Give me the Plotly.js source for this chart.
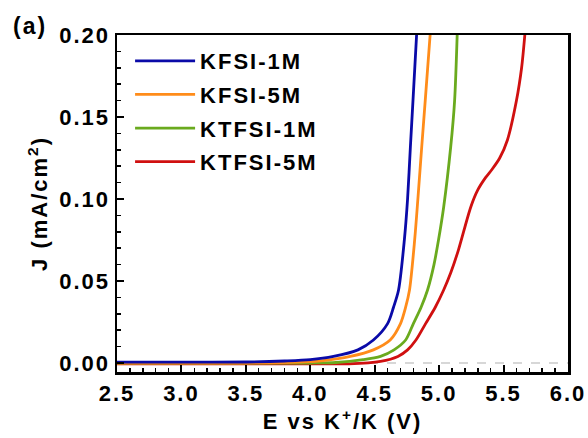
<!DOCTYPE html>
<html>
<head>
<meta charset="utf-8">
<script src="https://cdn.plot.ly/plotly-3.0.1.min.js"></script>
<style>
html,body{margin:0;padding:0;background:#fff;}
svg text{letter-spacing:2px;}
</style>
</head>
<body>
<div id="chart" style="width:588px;height:438px;"></div>
<script>
const names = ["KFSI-1M", "KFSI-5M", "KTFSI-1M", "KTFSI-5M"];
const colors = ["#0a0aa8", "#ff8c1a", "#6aaa1e", "#d01010"];

const x1 = [2.5, 3.0, 3.5, 3.8, 4.0, 4.18, 4.37, 4.49, 4.60, 4.646, 4.685, 4.73, 4.755, 4.777, 4.797, 4.825];
const y1 = [0.0005, 0.0005, 0.0006, 0.0012, 0.002, 0.004, 0.008, 0.014, 0.024, 0.034, 0.0445, 0.075, 0.10, 0.132, 0.16, 0.20];

const x2 = [2.5, 3.0, 3.5, 3.9, 4.1, 4.31, 4.49, 4.62, 4.70, 4.74, 4.77, 4.81, 4.835, 4.865, 4.892, 4.93];
const y2 = [0.0, 0.0, 0.0, 0.0005, 0.0015, 0.004, 0.008, 0.014, 0.024, 0.034, 0.0445, 0.075, 0.10, 0.132, 0.16, 0.20];

const x3 = [2.5, 3.0, 3.5, 4.0, 4.2, 4.41, 4.545, 4.65, 4.74, 4.80, 4.86, 4.91, 4.96, 4.995, 5.035, 5.09, 5.12, 5.14];
const y3 = [0.0, 0.0, 0.0, 0.0, 0.0003, 0.002, 0.004, 0.008, 0.014, 0.024, 0.034, 0.0445, 0.06, 0.075, 0.095, 0.132, 0.16, 0.20];

const x4 = [2.5, 3.0, 3.5, 4.0, 4.3, 4.545, 4.68, 4.755, 4.82, 4.895, 4.97, 5.035, 5.09, 5.15, 5.245, 5.30, 5.36, 5.41, 5.47, 5.53, 5.60, 5.64, 5.665];
const y4 = [-0.0005, -0.0005, -0.0005, -0.0005, -0.0005, 0.001, 0.004, 0.008, 0.014, 0.024, 0.034, 0.0445, 0.055, 0.069, 0.095, 0.1055, 0.113, 0.118, 0.125, 0.136, 0.16, 0.18, 0.20];

const xs = [x1, x2, x3, x4];
const ys = [y1, y2, y3, y4];

const traces = [];
for (let i = 3; i >= 0; i--) {
  traces.push({
    x: xs[i], y: ys[i], name: names[i], type: "scatter", mode: "lines",
    line: {color: colors[i], width: 2.8, shape: "spline", smoothing: 0.8},
    legendrank: i + 1, legendgroup: "g" + i
  });
}

const fontB = {family: "Liberation Sans, Arial, sans-serif", size: 22, color: "#000", weight: "bold"};

const layout = {
  width: 588, height: 438,
  margin: {l: 117, r: 20, t: 35, b: 66},
  paper_bgcolor: "#fff", plot_bgcolor: "#fff",
  showlegend: true,
  legend: {x: 0.029, y: 0.985, xanchor: "left", yanchor: "top", bgcolor: "rgba(0,0,0,0)",
           font: fontB, itemwidth: 60, tracegroupgap: 2},
  xaxis: {
    range: [2.5, 6.0], tickvals: [2.5, 3.0, 3.5, 4.0, 4.5, 5.0, 5.5, 6.0],
    ticktext: ["2.5", "3.0", "3.5", "4.0", "4.5", "5.0", "5.5", "6.0"],
    ticks: "inside", ticklen: 7, tickwidth: 2, tickcolor: "#000",
    minor: {dtick: 0.1, ticks: "inside", ticklen: 4, tickwidth: 1.5, tickcolor: "#000"},
    showline: true, linecolor: "#000", linewidth: 2.5, mirror: true,
    showgrid: false, zeroline: false, tickfont: fontB, ticklabelstandoff: 0,
    title: {text: "E vs K<sup>+</sup>/K (V)", font: fontB, standoff: 9}
  },
  yaxis: {
    range: [-0.0055, 0.20], tickvals: [0, 0.05, 0.10, 0.15, 0.20],
    ticktext: ["0.00", "0.05", "0.10", "0.15", "0.20"],
    ticks: "inside", ticklen: 7, tickwidth: 2, tickcolor: "#000",
    minor: {dtick: 0.01, tick0: 0, ticks: "inside", ticklen: 4, tickwidth: 1.5, tickcolor: "#000"},
    showline: true, linecolor: "#000", linewidth: 2.5, mirror: true,
    showgrid: false, zeroline: false, tickfont: fontB,
    title: {text: "J (mA/cm<sup>2</sup>)", font: fontB, standoff: 6}
  },
  shapes: [{type: "line", xref: "x", yref: "y", x0: 2.5, x1: 6.0, y0: 0, y1: 0,
            line: {color: "#b0b0b0", width: 1.2, dash: "dash"}, layer: "below"}],
  annotations: [{text: "(a)", xref: "paper", yref: "paper", x: -0.235, y: 1.07,
                 xanchor: "left", yanchor: "top", showarrow: false,
                 font: {family: "Liberation Sans, Arial, sans-serif", size: 23, color: "#000", weight: "bold"}}]
};

Plotly.newPlot("chart", traces, layout, {displayModeBar: false, staticPlot: true});
</script>
</body>
</html>
